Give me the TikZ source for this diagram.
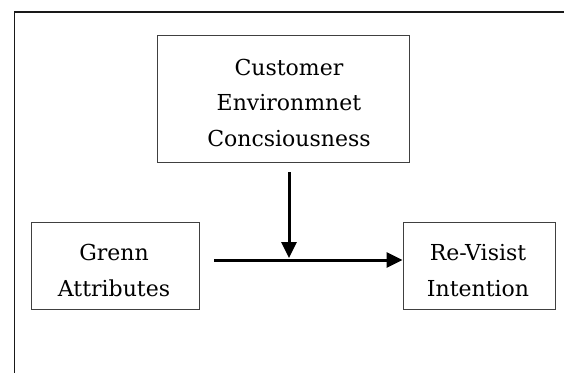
\documentclass[tikz,border=0pt]{standalone}
\usepackage{fontspec}
\setmainfont{DejaVu Serif}
\usetikzlibrary{arrows.meta}
\begin{document}
\begin{tikzpicture}[x=1pt,y=-1pt,
  boxshape/.style={draw=black!75,line width=1pt,rectangle,inner sep=0pt},
  label/.style={align=center,font=\fontsize{22}{35.5}\selectfont,text=black,inner sep=0pt},
  conn/.style={line width=3pt,-{Triangle[length=16pt,width=15pt]}}]
\useasboundingbox (0,0) rectangle (564,373);
\draw[line width=1.5pt,black!90] (564,12) -- (14.5,12) -- (14.5,373);
% boxes
\node[boxshape,minimum width=252pt,minimum height=127pt] (top) at (283,98.5) {};
\node[boxshape,minimum width=168pt,minimum height=87pt] (left) at (115,265.5) {};
\node[boxshape,minimum width=152pt,minimum height=87pt] (right) at (479,265.5) {};
% texts
\node[label] (toptxt) at (289,102.5) {Customer\\Environmnet\\Concsiousness};
\node[label] (lefttxt) at (114,270.5) {Grenn\\Attributes};
\node[label] (righttxt) at (478,270.5) {Re-Visist\\Intention};
% connectors
\coordinate (hstart) at (214,260);
\coordinate (vstart) at (289,172);
\coordinate (vend) at (289,258);
\draw[conn] (hstart) -- (right.west |- hstart);
\draw[conn] (vstart) -- (vend);
\end{tikzpicture}
\end{document}
